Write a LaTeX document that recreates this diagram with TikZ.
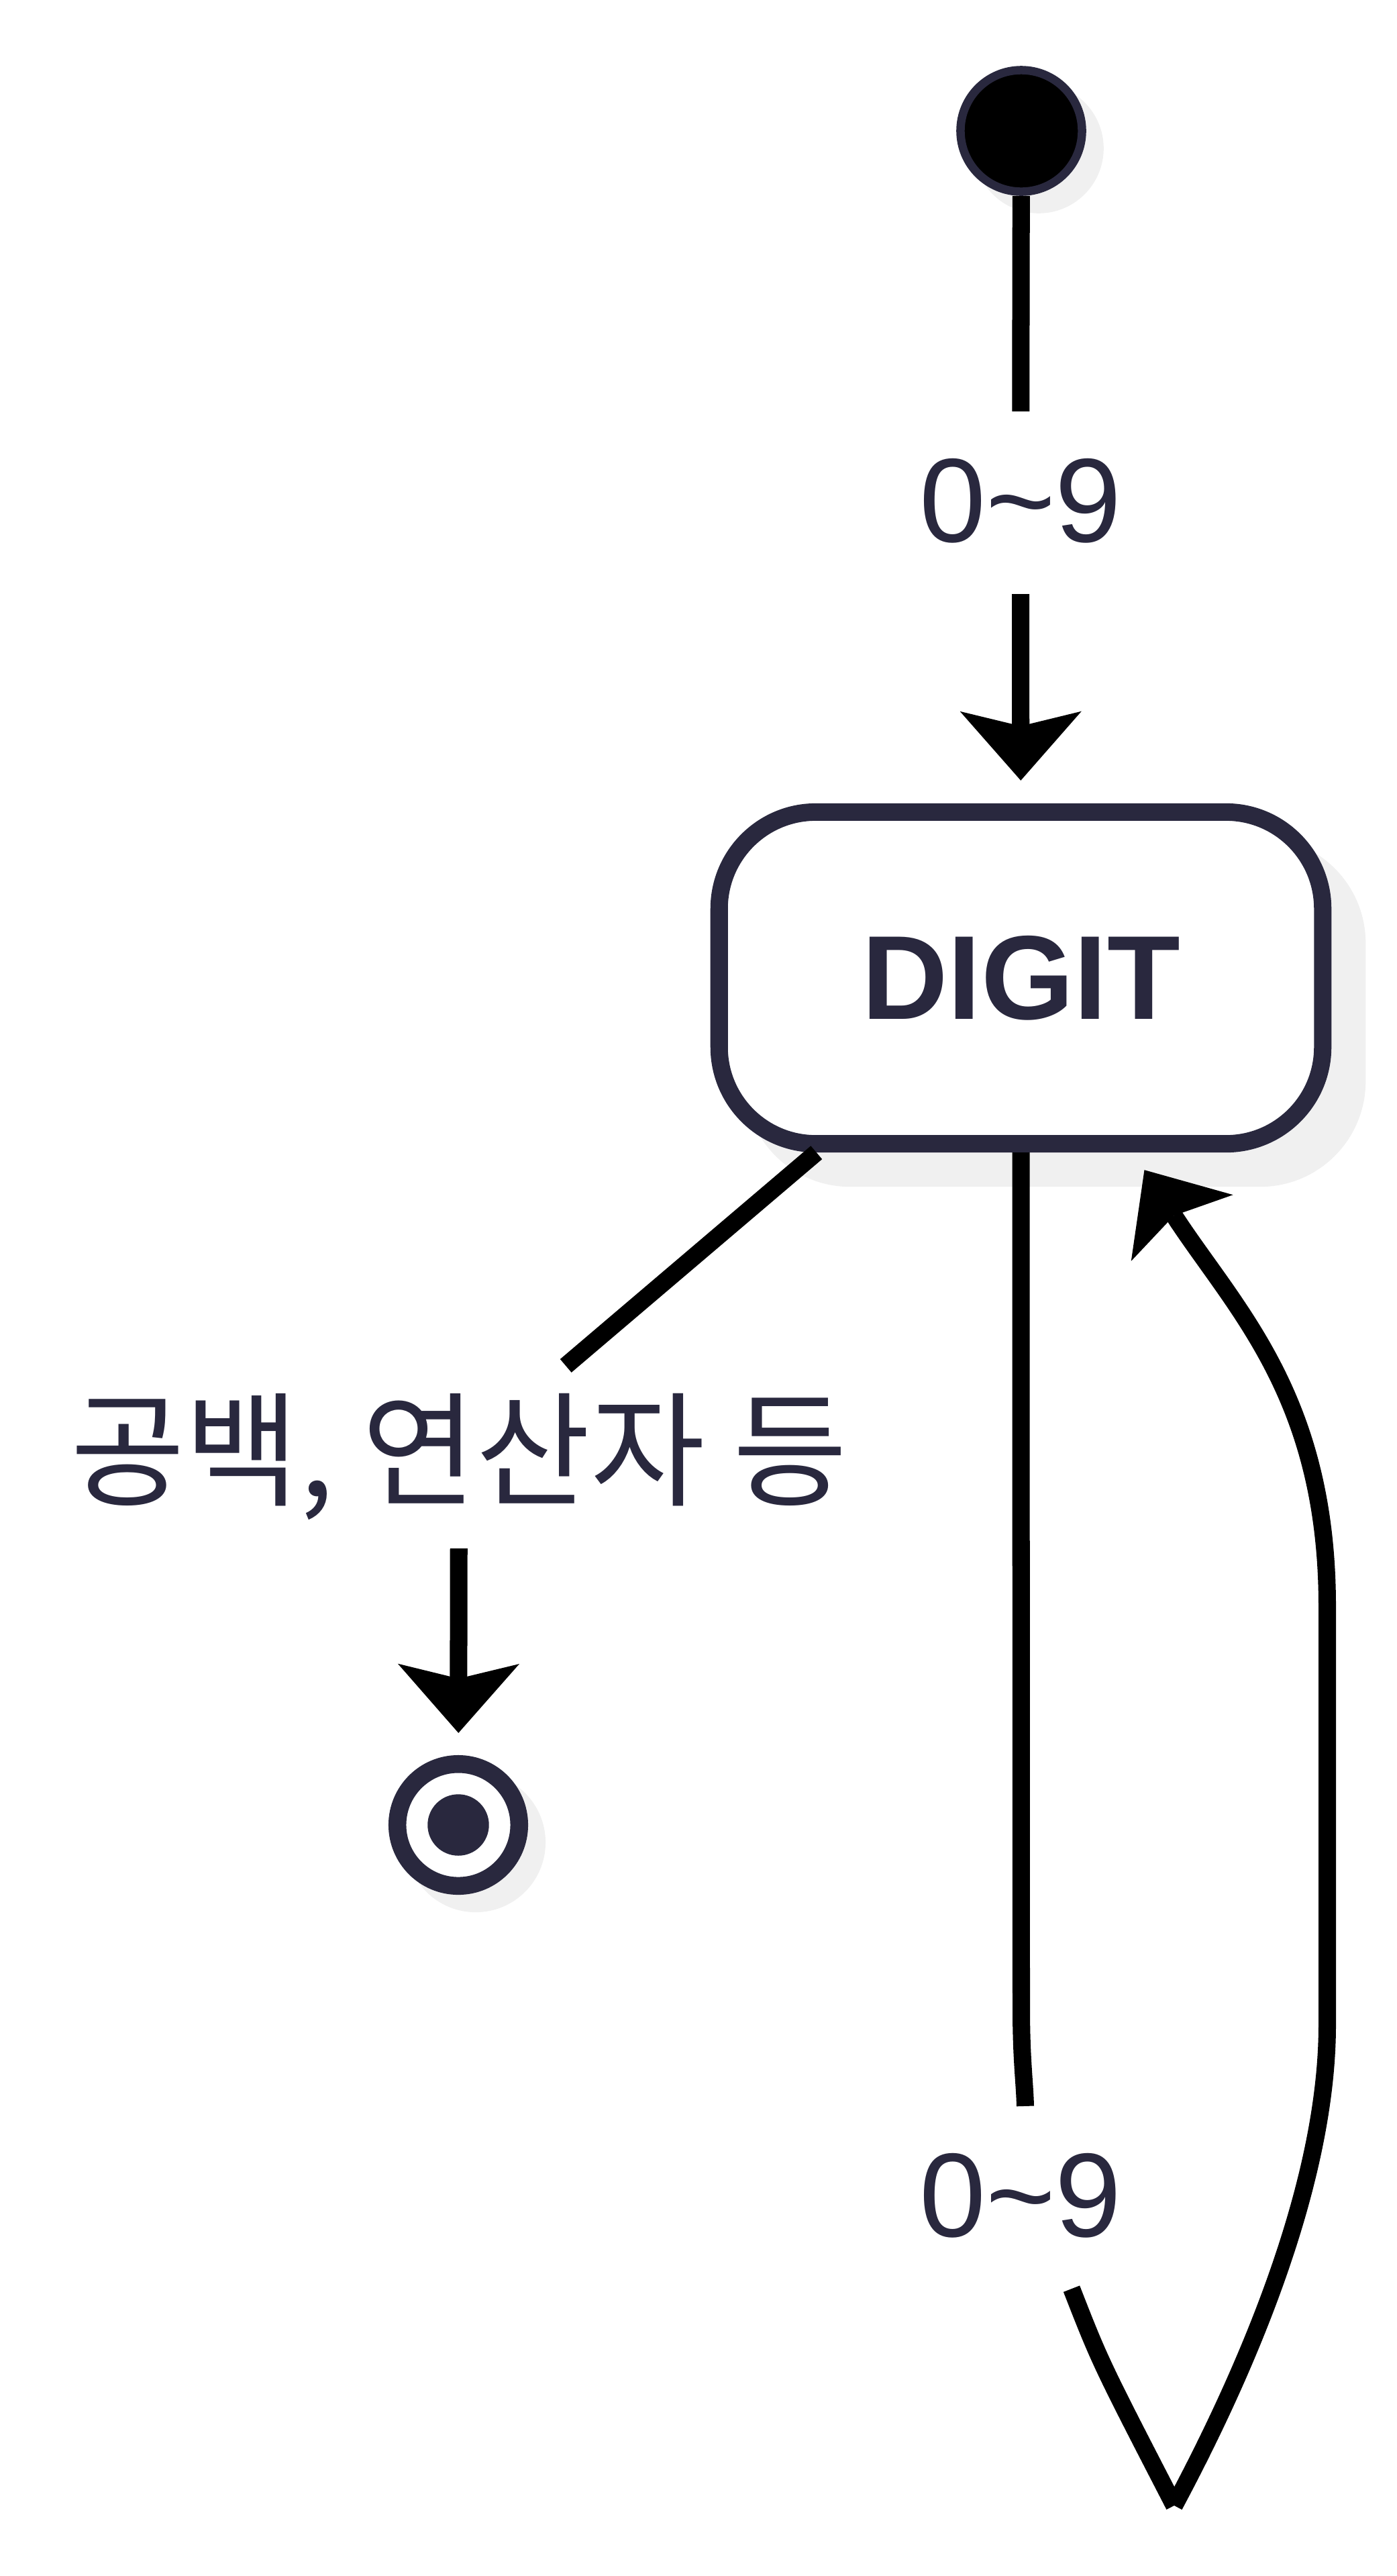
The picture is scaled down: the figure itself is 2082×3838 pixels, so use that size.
\documentclass[tikz,border=0pt]{standalone}
\usepackage{fontspec}
\setmainfont{Liberation Sans}
\newfontfamily\kofont{Noto Sans CJK KR}
\usetikzlibrary{arrows.meta,shadows,calc}
\definecolor{navy}{RGB}{41,40,62}
\definecolor{shadowgrey}{RGB}{240,240,240}
\newcommand{\bigtext}{\fontsize{50.6pt}{60pt}\selectfont}
\tikzset{every picture/.style={line width=0.26cm}}
\tikzset{
  startdot/.style={circle, draw=navy, fill=black, line width=0.125cm, minimum size=1.81cm, inner sep=0pt,
    drop shadow={shadow xshift=0.26cm, shadow yshift=-0.26cm, fill=shadowgrey, draw=shadowgrey, opacity=1}},
  enddot/.style={circle, draw=navy, fill=white, line width=0.265cm, minimum size=1.815cm, inner sep=0pt,
    path picture={\fill[navy] (path picture bounding box.center) circle[radius=0.457cm];},
    drop shadow={shadow xshift=0.26cm, shadow yshift=-0.26cm, fill=shadowgrey, draw=shadowgrey, opacity=1}},
  statebox/.style={rectangle, rounded corners=1.44cm, draw=navy, fill=white, text=navy,
    minimum width=8.99cm, minimum height=4.94cm, font=\bigtext\bfseries,
    drop shadow={shadow xshift=0.51cm, shadow yshift=-0.51cm, fill=shadowgrey, draw=shadowgrey, opacity=1}},
  edgelabel/.style={text=navy, inner sep=0pt, outer sep=0pt, text height=1.94cm, text depth=0.78cm, anchor=base}
}

\begin{document}
\begin{tikzpicture}[x=0.01cm, y=-0.01cm, >={Stealth[length=1.03cm, width=1.81cm, inset=0.22cm, line width=0pt]},
    every node/.style={font=\bigtext}]
    \useasboundingbox (0,0) rectangle (2082,3838);
    % states
    \node[startdot] (start) at (1522,195) {};
    \node[statebox] (digit) at (1521.5,1457) {DIGIT};
    \node[enddot] (final) at (683,2719) {};
    % labels on the transitions
    \node[edgelabel] (lbltop) at (1521,807) {0\textasciitilde 9};
    \node[edgelabel, font=\kofont\fontsize{52.7pt}{60pt}\selectfont] (lblws) at (684,2229) {공백, 연산자 등};
    \node[edgelabel] (lblloop) at (1521,3332) {0\textasciitilde 9};
    \coordinate (loopturn) at (1750,3733);
    % start -> DIGIT
    \draw (start) -- (lbltop);
    \draw[->, shorten >=0.34cm] (lbltop) -- (digit);
    % DIGIT -> end
    \draw (digit) -- (lblws);
    \draw[->, shorten >=0.33cm] (lblws) -- (final);
    % DIGIT -> DIGIT
    \draw (digit.south) -- (1522,2990) .. controls (1522,3070) and (1527,3100) .. ($(lblloop.north)+(7,0)$);
    \draw ($(lblloop.south)+(76,0)$) .. controls (1640,3520) .. (loopturn);
    \draw[->] (loopturn) .. controls (1880,3490) and (1978,3230) .. (1978,3017) -- (1978,2393)
        .. controls (1978,2080) and (1840,1950) .. ($(digit.south)+(184,26)$);
\end{tikzpicture}
\end{document}
